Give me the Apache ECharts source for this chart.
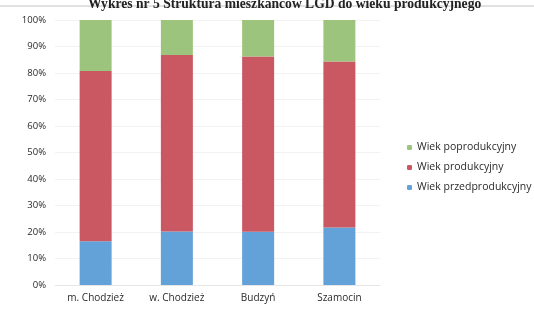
<!DOCTYPE html>
<html>
<head>
<meta charset="UTF-8">
<title>Wykres nr 5</title>
<script src="https://cdn.jsdelivr.net/npm/echarts@6/dist/echarts.min.js"></script>
<style>
  html, body { margin: 0; padding: 0; background: #fff; }
  #main { width: 534px; height: 316px; }
</style>
</head>
<body>
<div id="main"></div>
<script>
// dane (udzial w %)
var gminy = ['m. Chodzież', 'w. Chodzież', 'Budzyń', 'Szamocin'];
var przedprodukcyjny = [16.5, 20.2, 20.1, 21.7];
var produkcyjny = [64.3, 66.6, 66.1, 62.6];
var poprodukcyjny = [19.2, 13.2, 13.8, 15.7];
var yTicks = [0, 10, 20, 30, 40, 50, 60, 70, 80, 90, 100];

var chart = echarts.init(document.getElementById('main'));
var font = '"Open Sans", "Noto Sans", sans-serif';

function seria(name, data, color) {
	return {
		name: name,
		type: 'bar',
		stack: 'all',
		barWidth: 32,
		data: data,
		itemStyle: { color: color }
	};
}

var option = {
	animation: false,
	title: {
		text: 'Wykres nr 5 Struktura mieszkańców LGD do wieku produkcyjnego',
		left: 83,
		top: -8,
		textStyle: { fontFamily: '"Liberation Serif", serif', fontSize: 13.6, fontWeight: 'bold', color: '#222' }
	},
	graphic: [{
		type: 'line',
		shape: { x1: 0, y1: 6, x2: 534, y2: 6 },
		style: { stroke: '#c4c4c4', lineWidth: 1 }
	}],
	legend: {
		orient: 'vertical',
		left: 402,
		top: 137,
		itemWidth: 5,
		itemHeight: 5,
		itemGap: 9,
		data: ['Wiek poprodukcyjny', 'Wiek produkcyjny', 'Wiek przedprodukcyjny'],
		textStyle: { fontFamily: font, fontSize: 10.5, color: '#2a2a2a' }
	},
	grid: { left: 55, right: 154, top: 20, bottom: 31 },
	xAxis: {
		type: 'category',
		data: gminy,
		axisTick: { show: false },
		axisLine: { lineStyle: { color: '#e6e6e6' } },
		axisLabel: { fontFamily: font, fontSize: 10, color: '#2a2a2a', margin: 8 }
	},
	yAxis: {
		type: 'value',
		min: 0,
		max: 100,
		interval: 10,
		axisLabel: {
			fontFamily: font, fontSize: 9.5, color: '#2a2a2a', margin: 9,
			formatter: function (v) { return yTicks.indexOf(v) >= 0 ? v + '%' : ''; }
		},
		splitLine: { lineStyle: { color: '#f2f2f2' } }
	},
	series: [
		seria('Wiek przedprodukcyjny', przedprodukcyjny, '#63a2d8'),
		seria('Wiek produkcyjny', produkcyjny, '#c95863'),
		seria('Wiek poprodukcyjny', poprodukcyjny, '#9dc47c')
	]
};

chart.setOption(option);
</script>
</body>
</html>
